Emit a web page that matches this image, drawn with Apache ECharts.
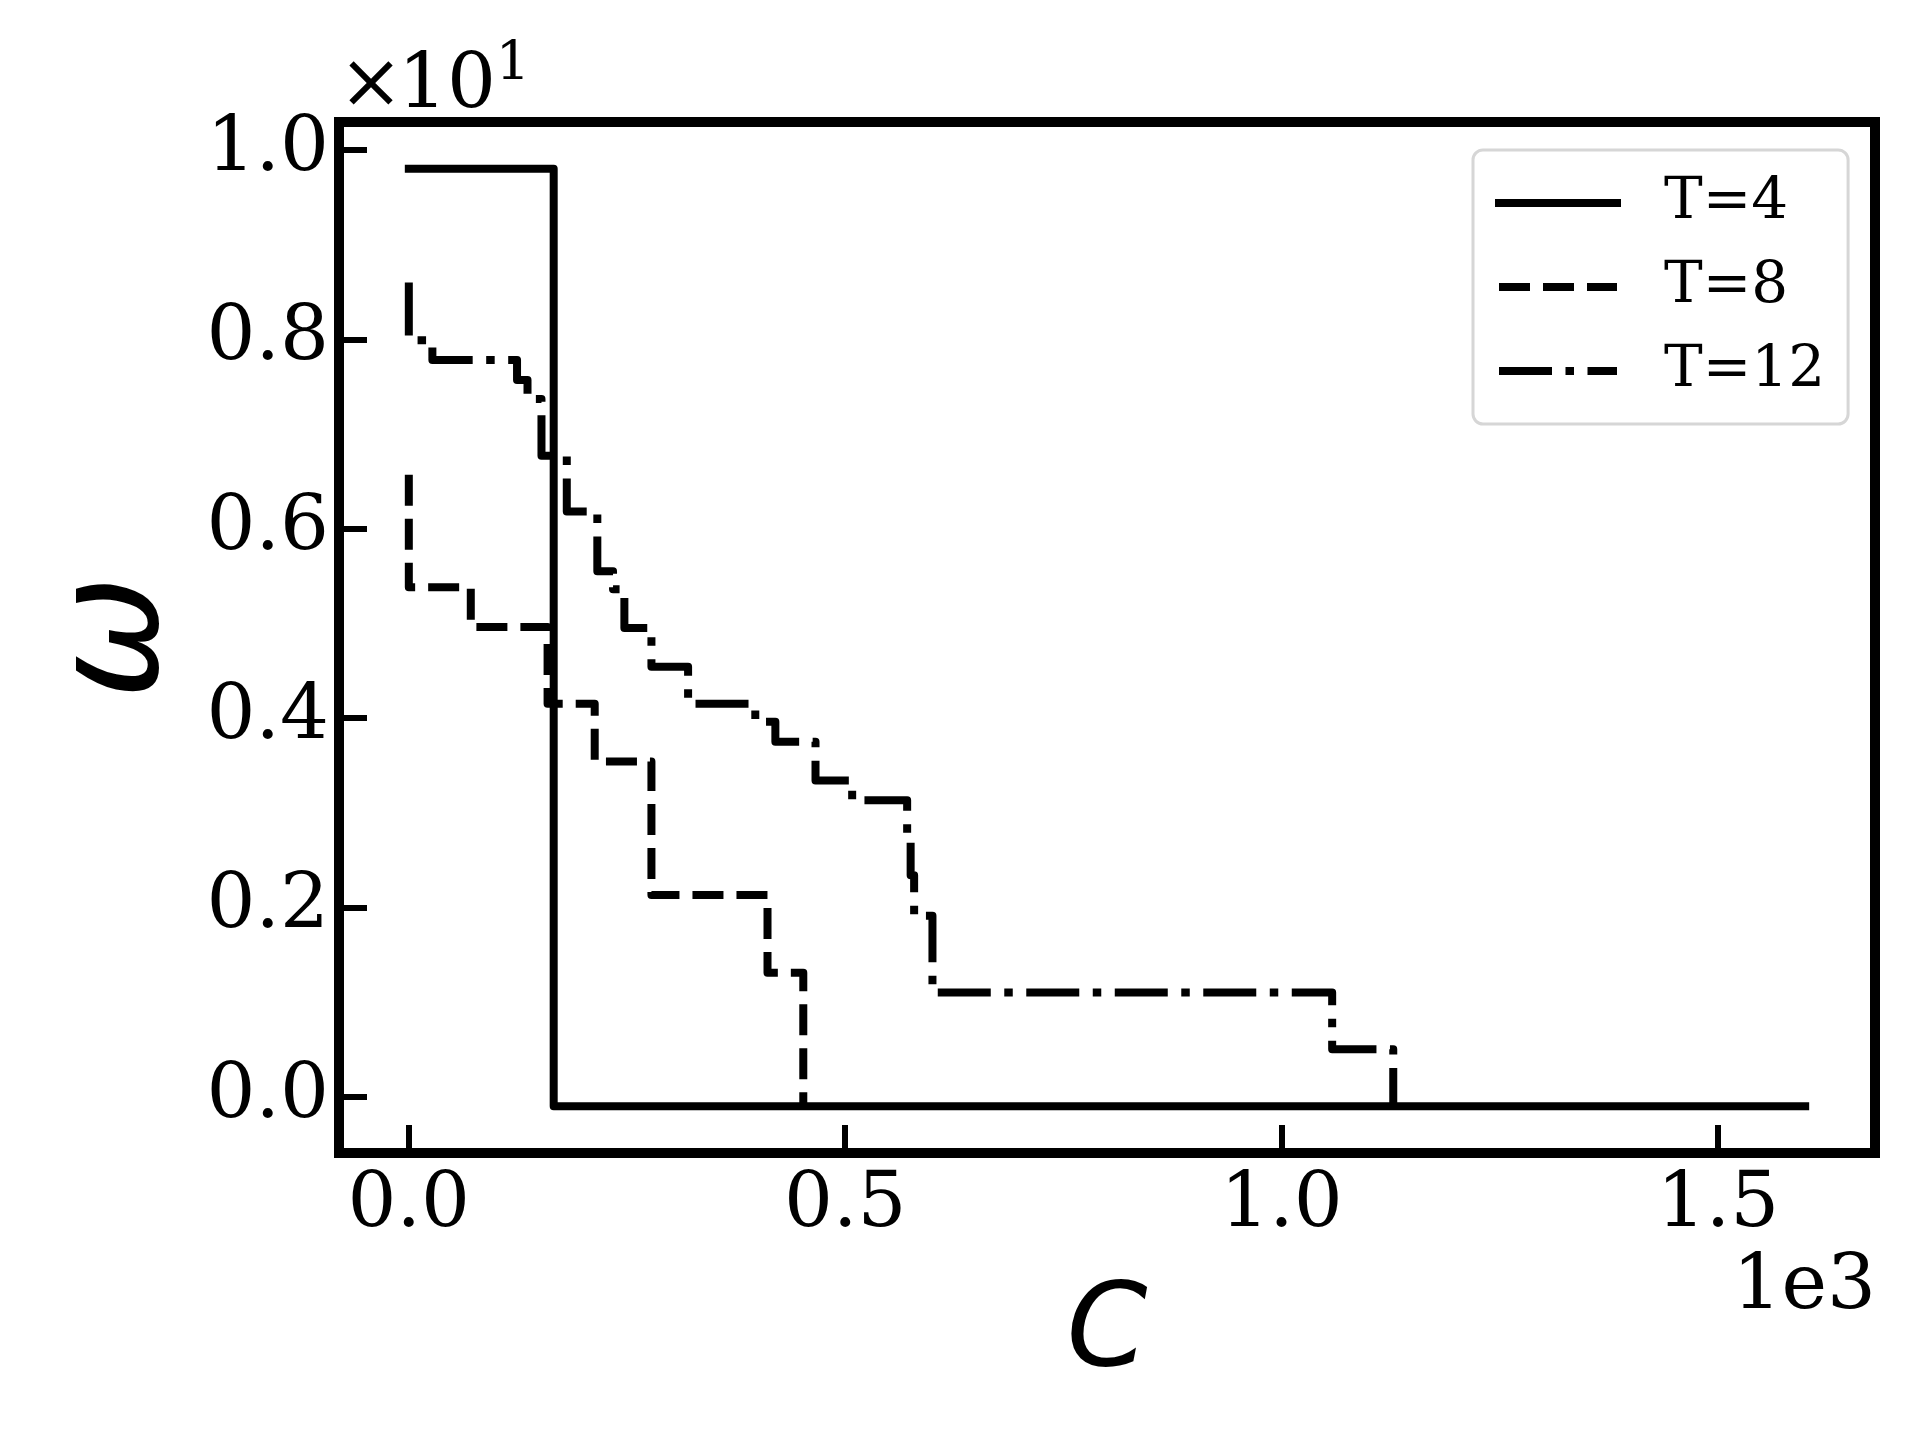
<!DOCTYPE html>
<html>
<head>
<meta charset="utf-8">
<title>omega vs C</title>
<script src="https://cdn.jsdelivr.net/npm/echarts@6.0.0/dist/echarts.min.js"></script>
<style>
  html, body { margin: 0; padding: 0; background: #fff; }
  #chart { width: 1920px; height: 1440px; }
</style>
</head>
<body>
<div id="chart"></div>
<script>
// step curves: C values where omega changes, omega after the change
const cT4 = [0, 166, 1600];
const wT4 = [9.8, -0.1, -0.1];

const cT8 = [0, 0, 71, 159, 213, 278, 411, 452];
const wT8 = [6.57, 5.38, 4.96, 4.15, 3.54, 2.13, 1.31, -0.1];

const cT12 = [0, 0, 27, 124, 136, 152, 181, 216, 234, 247, 278, 320, 397, 420, 466, 508, 571, 575, 579, 600, 1058, 1128];
const wT12 = [8.6, 7.99, 7.78, 7.57, 7.37, 6.77, 6.18, 5.55, 5.36, 4.95, 4.54, 4.15, 3.96, 3.75, 3.34, 3.13, 2.73, 2.34, 1.91, 1.10, 0.50, -0.1];

const seriesNames = ['T=4', 'T=8', 'T=12'];
const xTicks = [0, 500, 1000, 1500];
const yTicks = [0, 2, 4, 6, 8, 10];

const zip = (xs, ys) => xs.map((x, i) => [x, ys[i]]);

let myChart = echarts.init(document.getElementById('chart'), null, { renderer: 'canvas' });

const serif = 'DejaVu Serif';
const lineW = 8;

let option = {
  backgroundColor: '#fff',
  animation: false,
  grid: {
    left: 339, right: 45, top: 122, bottom: 287,
    show: true,
    borderColor: '#000',
    borderWidth: 10,
    backgroundColor: 'transparent'
  },
  legend: {
    data: seriesNames,
    orient: 'vertical',
    left: 1473,
    top: 150,
    padding: [23, 23, 23, 22],
    itemWidth: 118,
    itemHeight: 20,
    itemGap: 24,
    borderColor: '#d6d6d6',
    borderWidth: 3,
    borderRadius: 10,
    backgroundColor: 'rgba(255,255,255,0.8)',
    // only the line sample, no marker
    itemStyle: { opacity: 0, borderWidth: 0 },
    lineStyle: { width: lineW, type: 'inherit', cap: 'inherit' },
    textStyle: {
      fontFamily: serif,
      fontSize: 58,
      lineHeight: 60,
      color: '#000',
      padding: [0, 0, 0, 42]
    }
  },
  xAxis: {
    type: 'value',
    min: -80,
    max: 1680,
    name: 'C',
    nameLocation: 'middle',
    nameGap: 124,
    nameTextStyle: {
      fontFamily: 'DejaVu Sans',
      fontStyle: 'italic',
      fontSize: 116,
      color: '#000'
    },
    axisLine: { show: false, onZero: false },
    splitLine: { show: false },
    axisTick: {
      show: true,
      inside: true,
      length: 28,
      customValues: xTicks,
      lineStyle: { color: '#000', width: 6 }
    },
    axisLabel: {
      customValues: xTicks,
      margin: 14,
      fontFamily: serif,
      fontSize: 77,
      color: '#000',
      formatter: v => (v / 1000).toFixed(1)
    }
  },
  yAxis: {
    type: 'value',
    min: -0.595,
    max: 10.295,
    name: 'ω',
    nameLocation: 'middle',
    nameGap: 146,
    nameRotate: 90,
    nameTextStyle: {
      fontFamily: 'DejaVu Sans',
      fontStyle: 'italic',
      fontSize: 148,
      color: '#000'
    },
    axisLine: { show: false, onZero: false },
    splitLine: { show: false },
    axisTick: {
      show: true,
      inside: true,
      length: 28,
      customValues: yTicks,
      lineStyle: { color: '#000', width: 6 }
    },
    axisLabel: {
      customValues: yTicks,
      margin: 10,
      fontFamily: serif,
      fontSize: 77,
      color: '#000',
      formatter: v => (v / 10).toFixed(1)
    }
  },
  graphic: [
    { type: 'text', x: 371, y: 87, style: { text: '×', font: '77px "DejaVu Serif"', fill: '#000', align: 'center', verticalAlign: 'middle' } },
    { type: 'text', x: 447, y: 87, style: { text: '10', font: '77px "DejaVu Serif"', fill: '#000', align: 'center', verticalAlign: 'middle' } },
    { type: 'text', x: 513, y: 66, style: { text: '1', font: '54px "DejaVu Serif"', fill: '#000', align: 'center', verticalAlign: 'middle' } },
    { type: 'text', x: 1876, y: 1288, style: { text: '1e3', font: '77px "DejaVu Serif"', fill: '#000', align: 'right', verticalAlign: 'middle' } }
  ],
  series: [
    {
      name: 'T=4',
      type: 'line',
      step: 'end',
      symbol: 'none',
      data: zip(cT4, wT4),
      color: '#000',
      lineStyle: { color: '#000', width: lineW, type: 'solid', cap: 'square', join: 'round' }
    },
    {
      name: 'T=8',
      type: 'line',
      step: 'end',
      symbol: 'none',
      data: zip(cT8, wT8),
      color: '#000',
      lineStyle: { color: '#000', width: lineW, type: [31, 13], cap: 'butt', join: 'round' }
    },
    {
      name: 'T=12',
      type: 'line',
      step: 'end',
      symbol: 'none',
      data: zip(cT12, wT12),
      color: '#000',
      lineStyle: { color: '#000', width: lineW, type: [53, 13.5, 8.5, 13.5], cap: 'butt', join: 'round' }
    }
  ]
};

myChart.setOption(option);
</script>
</body>
</html>
